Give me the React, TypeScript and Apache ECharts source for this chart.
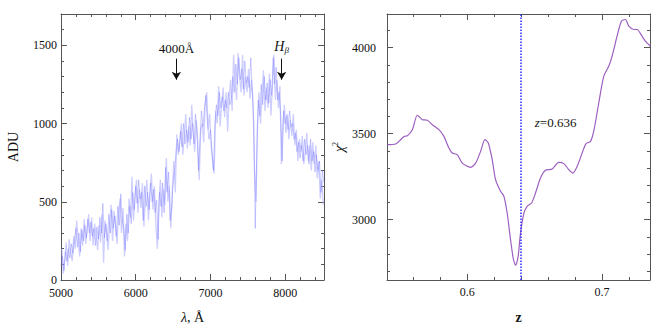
import React, { useEffect, useRef } from "react";
import * as echarts from "echarts";

// ---------- Left panel: spectrum ----------
const waveStart = 5000;
const waveStep = 20;
const fluxMain = [
  90, 150, 60, 180, 120, 200, 140, 230, 170, 260, 330, 210, 300, 180, 320, 250, 350, 270, 390, 300,
  370, 280, 330, 220, 340, 260, 400, 300, 490, 270, 360, 250, 420, 300, 450, 330, 410, 280, 470, 350,
  550, 380, 330, 190, 420, 300, 470, 360, 560, 450, 600, 490, 640, 520, 560, 380, 600, 470, 560, 450,
  620, 500, 580, 430, 510, 260, 560, 470, 620, 430, 720, 560, 690, 380, 450, 620, 700, 820, 900, 820,
  950, 850, 1000, 870, 960, 880, 1040, 900, 1000, 870, 1060, 950, 700, 900, 1080, 980, 1100, 1180, 1000, 900,
  960, 820, 700, 1000, 1120, 1050, 1200, 1100, 1170, 1080, 1150, 1100, 1200, 1120, 1160, 1300, 1200, 1380, 1250, 1420,
  1280, 1350, 1220, 1400, 1260, 1300, 1230, 1420, 1200, 1000, 330, 800, 1150, 1050, 1250, 1120, 1300, 1150, 1260, 1130,
  1280, 1180, 1420, 1250, 1360, 1150, 1200, 1050, 760, 1080, 1000, 1050, 960, 1080, 980, 1000, 900, 940, 820, 880,
  780, 860, 760, 900, 800, 860, 740, 900, 760, 820, 690, 800, 700, 760, 560, 700, 620,
];
const altStart = 5010;
const fluxAlt = [
  200, 40, 130, 240, 90, 260, 180, 120, 280, 200, 380, 260, 150, 330, 220, 390, 230, 320, 420, 250,
  400, 220, 360, 280, 190, 350, 240, 420, 110, 380, 300, 190, 360, 480, 250, 440, 350, 230, 420, 520,
  300, 460, 150, 360, 250, 520, 400, 660, 380, 520, 640, 430, 580, 460, 620, 340, 540, 640, 380, 560,
  680, 450, 600, 350, 200, 500, 640, 400, 580, 480, 780, 500, 600, 330, 560, 760, 560, 930, 800, 880,
  1000, 800, 920, 1060, 840, 980, 860, 1120, 940, 820, 1020, 880, 640, 960, 1000, 880, 1120, 1200, 960, 1060,
  860, 760, 680, 1080, 1000, 1240, 980, 1120, 1230, 1040, 1200, 950, 1160, 1280, 1080, 1440, 1260, 1150, 1450, 1300,
  1200, 1440, 1180, 1300, 1200, 1350, 1160, 1280, 1150, 700, 500, 1000, 1200, 1000, 1180, 1340, 1080, 1230, 1100, 1320,
  1050, 1240, 1440, 1150, 1280, 1100, 1240, 740, 1000, 1120, 940, 1060, 900, 1020, 920, 1060, 860, 960, 760, 900,
  820, 920, 740, 820, 940, 760, 860, 700, 880, 740, 860, 650, 760, 520, 640, 480,
];
const featureLines = [
  { name: "4000Å", wave: 6544 },
  { name: "Hβ", wave: 7953 },
];
const specXTicks = [5000, 6000, 7000, 8000];
const specYTicks = [0, 500, 1000, 1500];

// ---------- Right panel: chi-square vs z ----------
const zValues = [
  0.5407, 0.5469, 0.5506, 0.5531, 0.5556, 0.5593, 0.563, 0.5667, 0.5704, 0.5741,
  0.579, 0.5827, 0.5864, 0.5889, 0.5926, 0.5963, 0.6025, 0.6062, 0.6099, 0.6131,
  0.6156, 0.6185, 0.621, 0.6247, 0.6272, 0.6296, 0.6321, 0.6341, 0.6352, 0.6358, 0.6366, 0.6378,
  0.6395, 0.642, 0.6444, 0.6477, 0.6506, 0.6543, 0.658, 0.663, 0.6679, 0.6716,
  0.6753, 0.6783, 0.6815, 0.6852, 0.6881, 0.6914, 0.6938, 0.6975, 0.7012, 0.7049,
  0.7074, 0.7111, 0.7143, 0.7173, 0.7198, 0.7235, 0.7259, 0.7296, 0.7321, 0.7358,
];
const chiValues = [
  3436, 3440, 3465, 3484, 3488, 3523, 3607, 3581, 3578, 3552,
  3523, 3484, 3417, 3388, 3378, 3329, 3304, 3329, 3397, 3465,
  3446, 3349, 3233, 3165, 3136, 3039, 2884, 2775, 2745, 2736, 2748, 2790,
  2922, 3039, 3078, 3097, 3155, 3242, 3287, 3295, 3333, 3326,
  3291, 3271, 3310, 3388, 3442, 3455, 3514, 3678, 3833, 3891,
  3950, 4066, 4153, 4163, 4124, 4105, 4105, 4066, 4037, 4008,
];
const bestZ = 0.636;
const chiXTicks = [0.6, 0.7];
const chiXMinor = [0.56, 0.58, 0.6, 0.62, 0.64, 0.66, 0.68, 0.7, 0.72];
const chiYTicks = [3000, 3500, 4000];

const range = (a: number, b: number, s: number) => {
  const out: number[] = [];
  for (let v = a; v <= b + 1e-9; v += s) out.push(Math.round(v * 1000) / 1000);
  return out;
};

const FONT = "'Liberation Serif', 'DejaVu Serif', serif";
const FRAME = "#555";
const TXT = "#111";

function axesFor(
  dim: "x" | "y",
  gridIndex: number,
  min: number,
  max: number,
  major: number[],
  minor: number[],
  labelMargin: number,
  labelFmt: (v: number) => string,
  name: any
) {
  const posA = dim === "x" ? "bottom" : "left";
  const posB = dim === "x" ? "top" : "right";
  const mk = (key: string, pos: string, ticks: number[], len: number, withLine: boolean, withLabel: boolean) => ({
    id: `${dim}${gridIndex}${key}`,
    type: "value",
    gridIndex,
    min,
    max,
    position: pos,
    offset: 0,
    name: "",
    splitLine: { show: false },
    axisLine: { show: withLine, onZero: false, lineStyle: { color: FRAME, width: 1 } },
    axisTick: {
      show: true,
      inside: true,
      length: len,
      customValues: ticks,
      lineStyle: { color: FRAME, width: 1 },
    },
    axisLabel: withLabel
      ? {
          show: true,
          customValues: major,
          margin: labelMargin,
          color: TXT,
          fontFamily: FONT,
          fontSize: 12,
          fontWeight: "normal",
          formatter: labelFmt,
        }
      : { show: false, color: "rgba(0,0,0,0)", fontSize: 1, formatter: () => "" },
    ...(withLabel ? name : {}),
  });
  return [
    mk("a", posA, major, 6, true, true),
    mk("b", posA, minor, 3, false, false),
    mk("c", posB, major, 6, true, false),
    mk("d", posB, minor, 3, false, false),
  ];
}

export default function App() {
  const ref = useRef<HTMLDivElement>(null);
  useEffect(() => {
    document.body.style.margin = "0";
    const chart = echarts.init(ref.current!, undefined, { renderer: "svg" });

    const specMain = fluxMain.map((f, i) => [waveStart + i * waveStep, f]);
    const specAlt = fluxAlt.map((f, i) => [altStart + i * waveStep, f]);
    const chiData = zValues.map((z, i) => [z, chiValues[i]]);

    const xAxes = [
      ...axesFor("x", 0, 5000, 8520, specXTicks, range(5000, 8400, 200), 7, (v) => String(v), {
        name: "{l|λ}, Å",
        nameLocation: "middle",
        nameGap: 30,
        nameTextStyle: {
          fontFamily: FONT,
          fontSize: 14,
          color: TXT,
          rich: { l: { fontFamily: FONT, fontSize: 14, fontStyle: "italic", color: TXT } },
        },
      }),
      ...axesFor("x", 1, 0.5405, 0.7355, chiXTicks, chiXMinor, 6, (v) => v.toFixed(1), {
        name: "z",
        nameLocation: "middle",
        nameGap: 30,
        nameTextStyle: { fontFamily: FONT, fontSize: 14, fontWeight: "bold", color: TXT },
      }),
    ];
    const yAxes = [
      ...axesFor("y", 0, 0, 1700, specYTicks, range(0, 1700, 100), 4, (v) => String(v), {
        name: "ADU",
        nameLocation: "middle",
        nameGap: 41,
        nameRotate: 90,
        nameTextStyle: { fontFamily: FONT, fontSize: 14, color: TXT },
      }),
      ...axesFor("y", 1, 2650, 4195, chiYTicks, range(2700, 4100, 100), 11, (v) => String(v), {
        name: "{c|χ}{s|2}",
        nameLocation: "middle",
        nameGap: 40,
        nameRotate: 90,
        nameTextStyle: {
          fontFamily: FONT,
          color: TXT,
          rich: {
            c: { fontFamily: FONT, fontSize: 14, fontStyle: "italic", color: TXT },
            s: { fontFamily: FONT, fontSize: 8, color: TXT, padding: [0, 0, 8, 0] },
          },
        },
      }),
    ];

    chart.setOption({
      animation: false,
      backgroundColor: "#fff",
      textStyle: { fontFamily: FONT, color: TXT },
      grid: [
        { left: 61, top: 14, width: 263, height: 266 },
        { left: 387, top: 14, width: 263, height: 266 },
      ],
      xAxis: xAxes,
      yAxis: yAxes,
      series: [
        {
          type: "line",
          xAxisIndex: 0,
          yAxisIndex: 0,
          data: specAlt,
          showSymbol: false,
          lineStyle: { color: "rgba(175,175,255,0.6)", width: 1.3 },
          z: 2,
        },
        {
          type: "line",
          xAxisIndex: 0,
          yAxisIndex: 0,
          data: specMain,
          showSymbol: false,
          lineStyle: { color: "rgba(110,110,255,0.6)", width: 0.6 },
          z: 3,
          markLine: {
            silent: true,
            animation: false,
            symbol: ["none", "arrow"],
            symbolSize: [7, 8],
            lineStyle: { color: "#111", width: 1, type: "solid" },
            label: {
              show: true,
              position: "start",
              distance: 4,
              fontFamily: FONT,
              fontSize: 13,
              color: TXT,
              rich: {
                h: { fontFamily: FONT, fontSize: 14, fontStyle: "italic", color: TXT },
                b: { fontFamily: FONT, fontSize: 9, fontStyle: "italic", color: TXT, padding: [8, 0, 0, 0] },
              },
            },
            data: featureLines.map((f) => [
              {
                coord: [f.wave, 1415],
                label: { formatter: f.name === "Hβ" ? "{h|H}{b|β}" : f.name },
              },
              { coord: [f.wave, 1280] },
            ]),
          },
        },
        {
          type: "line",
          xAxisIndex: 4,
          yAxisIndex: 4,
          data: chiData,
          smooth: 0.25,
          showSymbol: false,
          lineStyle: { color: "#9c5fc0", width: 1.2 },
          markLine: {
            silent: true,
            animation: false,
            symbol: "none",
            label: { show: false },
            lineStyle: { color: "#2b2bff", width: 1.5, type: [1.5, 1.5] },
            data: [{ xAxis: bestZ }],
          },
          markPoint: {
            silent: true,
            symbol: "circle",
            symbolSize: 0,
            label: {
              show: true,
              formatter: "{i|z}=" + bestZ.toFixed(3),
              fontFamily: FONT,
              fontSize: 13,
              color: TXT,
              rich: { i: { fontFamily: FONT, fontSize: 13, fontStyle: "italic", color: TXT } },
            },
            data: [{ coord: [0.6655, 3565] }],
          },
        },
      ],
    });
    return () => chart.dispose();
  }, []);
  return <div ref={ref} style={{ width: 664, height: 333 }} />;
}
